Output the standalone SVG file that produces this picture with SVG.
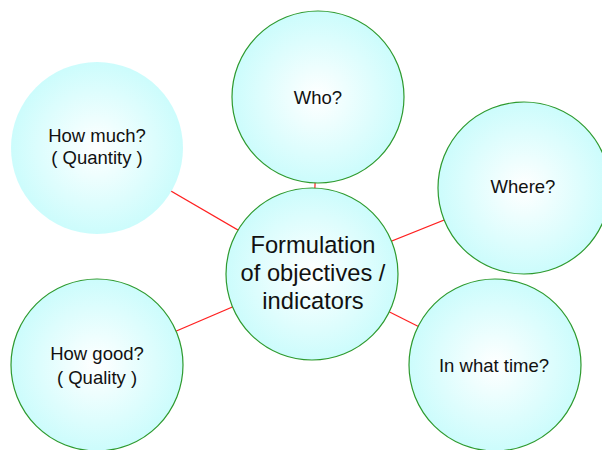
<svg xmlns="http://www.w3.org/2000/svg" width="602" height="450" viewBox="0 0 602 450">
<defs>
<radialGradient id="g" cx="50%" cy="50%" r="50%">
<stop offset="0" stop-color="#ffffff"/>
<stop offset="1" stop-color="#ccfcfc"/>
</radialGradient>
</defs>
<style>
.n{fill:url(#g);stroke:#2e9a2e;stroke-width:1.2}
.nb{fill:url(#g);stroke:none}
.t{font-family:"Liberation Sans",Arial,sans-serif;font-size:18.5px;fill:#111;text-anchor:middle}
.tc{font-family:"Liberation Sans",Arial,sans-serif;font-size:23.7px;fill:#111;text-anchor:middle}
.c line{stroke:#ff2020;stroke-width:1.2}
</style>
<rect width="602" height="450" fill="#fff"/>
<g id="connectors" class="c">
<line x1="312" y1="273" x2="318" y2="97"/>
<line x1="312" y1="273" x2="97" y2="148"/>
<line x1="312" y1="273" x2="524" y2="188"/>
<line x1="312" y1="273" x2="97" y2="365"/>
<line x1="312" y1="273" x2="495" y2="365"/>
</g>
<g id="who"><circle class="n" cx="318" cy="97" r="86"/><text class="t" x="318" y="104">Who?</text></g>
<g id="howmuch"><circle class="nb" cx="97" cy="148" r="86"/><text class="t" x="97" y="142">How much?</text><text class="t" x="97" y="164">( Quantity )</text></g>
<g id="where"><circle class="n" cx="524" cy="188" r="86"/><text class="t" x="523" y="193">Where?</text></g>
<g id="howgood"><circle class="n" cx="97" cy="365" r="86"/><text class="t" x="97" y="360">How good?</text><text class="t" x="97" y="384">( Quality )</text></g>
<g id="inwhattime"><circle class="n" cx="495" cy="365" r="86"/><text class="t" x="494" y="372">In what time?</text></g>
<g id="center"><circle class="n" cx="312" cy="274" r="86"/><text class="tc" x="313" y="253">Formulation</text><text class="tc" x="313" y="281">of objectives /</text><text class="tc" x="313" y="309">indicators</text></g>
</svg>
